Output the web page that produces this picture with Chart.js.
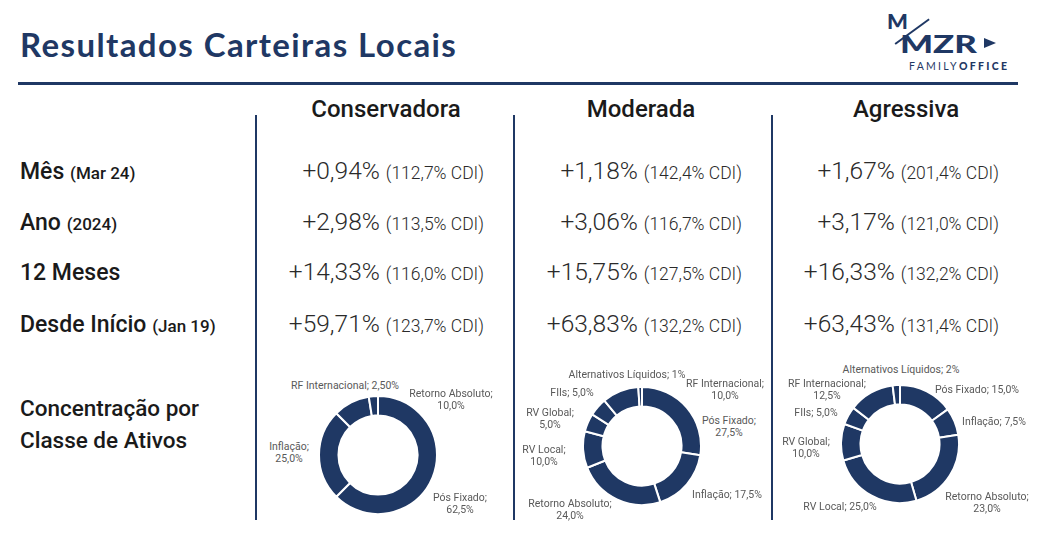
<!DOCTYPE html>
<html>
<head>
<meta charset="utf-8">
<script src="https://cdn.jsdelivr.net/npm/chart.js"></script>
<style>
  body { margin:0; width:1043px; height:533px; background:#fff; position:relative; overflow:hidden; font-family:Roboto, sans-serif; }
  .abs { position:absolute; white-space:nowrap; }
  #title { left:20px; top:24px; font-family:"Lato", sans-serif; font-weight:700; font-size:33px; color:#1f3864; letter-spacing:1.4px; }
  #rule { left:18px; top:82px; width:1000px; height:3px; background:#1f3864; }
  .vline { top:115px; width:2px; height:405px; background:#1f3864; }
  .colhead { top:95px; width:240px; text-align:center; font-size:24px; font-weight:500; color:#1a1a1a; }
  .rowlabel { left:20px; font-size:23px; font-weight:500; color:#1a1a1a; }
  .rowlabel small { font-size:17px; }
  .val { width:240px; text-align:right; font-size:24.5px; font-weight:300; color:#2a2a2a; }
  .val small { font-size:17.5px; }
  .conc { left:20px; top:392px; font-size:22.5px; font-weight:500; color:#1a1a1a; line-height:32px; }
  .dlabel { font-size:10.5px; font-weight:400; color:#595959; text-align:center; line-height:12px; transform:translate(-50%,-50%); }
  .donut { position:absolute; width:120px; height:120px; }
</style>
</head>
<body>
<div id="title" class="abs">Resultados Carteiras Locais</div>
<div id="rule" class="abs"></div>

<!-- logo -->
<div class="abs" style="left:887px;top:10px;font-family:'Lato',sans-serif;font-weight:900;font-size:20px;line-height:22px;color:#1f3864;transform:scaleX(1.1);transform-origin:left;">M</div>
<div class="abs" style="left:900px;top:32px;font-family:'Lato',sans-serif;font-weight:900;font-size:24px;line-height:24px;color:#1f3864;transform:scaleX(1.45);transform-origin:left;">MZR</div>
<div class="abs" style="left:984px;top:38px;width:0;height:0;border-top:5px solid transparent;border-bottom:5px solid transparent;border-left:12px solid #1f3864;"></div>
<div class="abs" style="left:895px;top:43px;width:42px;height:1.5px;background:#1f3864;transform:rotate(-36deg);transform-origin:left center;"></div>
<div class="abs" style="left:909px;top:60px;font-family:'Lato',sans-serif;font-size:10.5px;color:#1f3864;letter-spacing:2.3px;">FAMILY<b style="font-weight:900">OFFICE</b></div>

<div class="abs vline" style="left:255px"></div>
<div class="abs vline" style="left:513px"></div>
<div class="abs vline" style="left:771px"></div>

<div id="table"></div>
<div class="abs conc">Concentração por<br>Classe de Ativos</div>

<div class="donut" style="left:318px;top:395px"><canvas id="donutCons" width="120" height="120"></canvas></div>
<div class="donut" style="left:582px;top:386px"><canvas id="donutMod" width="120" height="120"></canvas></div>
<div class="donut" style="left:840px;top:384px"><canvas id="donutAgr" width="120" height="120"></canvas></div>
<div id="labels"></div>

<script>
// TABLE DATA
const portfolios = ["Conservadora", "Moderada", "Agressiva"];
const periods = ["Mês", "Ano", "12 Meses", "Desde Início"];
const periodNotes = ["(Mar 24)", "(2024)", "", "(Jan 19)"];

const retConservadora = [0.94, 2.98, 14.33, 59.71];
const cdiConservadora = [112.7, 113.5, 116.0, 123.7];
const retModerada = [1.18, 3.06, 15.75, 63.83];
const cdiModerada = [142.4, 116.7, 127.5, 132.2];
const retAgressiva = [1.67, 3.17, 16.33, 63.43];
const cdiAgressiva = [201.4, 121.0, 132.2, 131.4];

// ALLOCATION DATA
const consLabels = ["Pós Fixado", "Inflação", "Retorno Absoluto", "RF Internacional"];
const consValues = [62.5, 25.0, 10.0, 2.5];
const consText = ["62,5%", "25,0%", "10,0%", "2,50%"];

const modLabels = ["Pós Fixado", "Inflação", "Retorno Absoluto", "RV Local", "RV Global", "FIIs", "RF Internacional", "Alternativos Líquidos"];
const modValues = [27.5, 17.5, 24.0, 10.0, 5.0, 5.0, 10.0, 1.0];
const modText = ["27,5%", "17,5%", "24,0%", "10,0%", "5,0%", "5,0%", "10,0%", "1%"];

const agrLabels = ["Pós Fixado", "Inflação", "Retorno Absoluto", "RV Local", "RV Global", "FIIs", "RF Internacional", "Alternativos Líquidos"];
const agrValues = [15.0, 7.5, 23.0, 25.0, 10.0, 5.0, 12.5, 2.0];
const agrText = ["15,0%", "7,5%", "23,0%", "25,0%", "10,0%", "5,0%", "12,5%", "2%"];

// label placement (x, y, two lines?)
const consPos = [[460, 504, 2], [289, 453, 2], [451, 400, 2], [345, 386, 1]];
const modPos = [[729, 427, 2], [727, 495, 1], [570, 510, 2], [544, 456, 2], [550, 419, 2], [572, 393, 1], [725, 390, 2], [627, 375, 1]];
const agrPos = [[977, 390, 1], [994, 422, 1], [987, 503, 2], [840, 507, 1], [806, 448, 2], [816, 413, 1], [827, 390, 2], [901, 370, 1]];

const navy = "#1f3864";

const fmt = (v, d) => v.toFixed(d).replace(".", ",");

// BUILD TABLE
const table = document.getElementById("table");
const rowTops = [158, 209, 259, 311];
const colRight = [484, 742, 999];
const rets = [retConservadora, retModerada, retAgressiva];
const cdis = [cdiConservadora, cdiModerada, cdiAgressiva];

portfolios.forEach((p, i) => {
    table.innerHTML += `<div class="abs colhead" style="left:${[386, 641, 906][i] - 120}px">${p}</div>`;
});

periods.forEach((p, r) => {
    const note = periodNotes[r] ? ` <small>${periodNotes[r]}</small>` : "";
    table.innerHTML += `<div class="abs rowlabel" style="top:${rowTops[r]}px">${p}${note}</div>`;
    portfolios.forEach((_, c) => {
        table.innerHTML += `
        <div class="abs val" style="top:${rowTops[r] - 2}px;left:${colRight[c] - 240}px">
            +${fmt(rets[c][r], 2)}% <small>(${fmt(cdis[c][r], 1)}% CDI)</small>
        </div>`;
    });
});

// DONUTS
function donut(id, values, labels) {
    new Chart(document.getElementById(id), {
        type: "doughnut",
        data: {
            labels: labels,
            datasets: [{
                data: values,
                backgroundColor: navy,
                borderColor: "#fff",
                borderWidth: 2
            }]
        },
        options: {
            responsive: false,
            animation: false,
            cutout: "67%",
            layout: { padding: 0 },
            plugins: {
                legend: { display: false },
                tooltip: { enabled: false }
            }
        }
    });
}

donut("donutCons", consValues, consLabels);
donut("donutMod", modValues, modLabels);
donut("donutAgr", agrValues, agrLabels);

// DONUT LABELS
const lab = document.getElementById("labels");
function addLabels(names, texts, pos) {
    names.forEach((n, i) => {
        const [x, y, lines] = pos[i];
        const txt = lines === 2 ? `${n};<br>${texts[i]}` : `${n}; ${texts[i]}`;
        lab.innerHTML += `<div class="abs dlabel" style="left:${x}px;top:${y}px">${txt}</div>`;
    });
}
addLabels(consLabels, consText, consPos);
addLabels(modLabels, modText, modPos);
addLabels(agrLabels, agrText, agrPos);
</script>
</body>
</html>
